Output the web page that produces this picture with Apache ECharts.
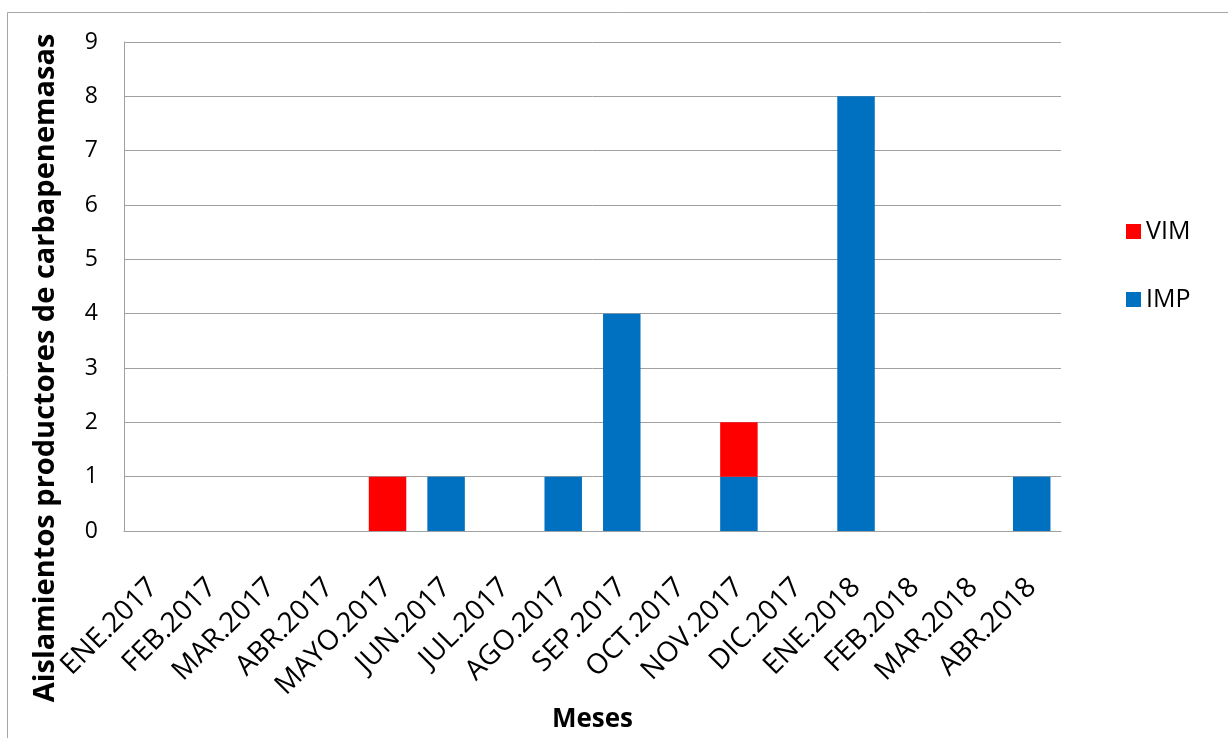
<!DOCTYPE html>
<html>
<head>
<meta charset="utf-8">
<script src="https://cdn.jsdelivr.net/npm/echarts@6/dist/echarts.min.js"></script>
<style>
  html, body { margin: 0; padding: 0; background: #ffffff; }
  #chart { width: 1228px; height: 738px; }
</style>
</head>
<body>
<div id="chart"></div>
<script>
// Monthly carbapenemase-producing isolates by enzyme type
const months = ['ENE.2017', 'FEB.2017', 'MAR.2017', 'ABR.2017', 'MAYO.2017', 'JUN.2017',
  'JUL.2017', 'AGO.2017', 'SEP.2017', 'OCT.2017', 'NOV.2017', 'DIC.2017',
  'ENE.2018', 'FEB.2018', 'MAR.2018', 'ABR.2018'];
const impValues = [0, 0, 0, 0, 0, 1, 0, 1, 4, 0, 1, 0, 8, 0, 0, 1];
const vimValues = [0, 0, 0, 0, 1, 0, 0, 0, 0, 0, 1, 0, 0, 0, 0, 0];
const yTitle = 'Aislamientos productores de carbapenemasas';
const xTitle = 'Meses';

const FONT = '"Open Sans", "Liberation Sans", sans-serif';

const chart = echarts.init(document.getElementById('chart'), null, { renderer: 'canvas' });

chart.setOption({
  backgroundColor: '#ffffff',
  animation: false,
  graphic: [
    {
      // outer chart frame
      type: 'rect',
      shape: { x: 7.5, y: 12.5, width: 1260, height: 800 },
      style: { fill: 'none', stroke: '#a6a6a6', lineWidth: 1 },
      silent: true
    },
    {
      // vertical axis title, placed along the left edge of the frame
      type: 'text',
      x: 46,
      y: 368,
      rotation: Math.PI / 2,
      style: {
        text: yTitle,
        fontFamily: FONT,
        fontSize: 29,
        fontWeight: 'bold',
        fill: '#000000',
        align: 'center',
        verticalAlign: 'middle'
      },
      silent: true
    }
  ],
  grid: { left: 124, right: 167, top: 42, bottom: 207, outerBoundsMode: 'none' },
  legend: {
    orient: 'vertical',
    left: 1126,
    top: 219,
    padding: 0,
    itemWidth: 15,
    itemHeight: 15,
    itemGap: 43,
    icon: 'rect',
    data: ['VIM', 'IMP'],
    textStyle: { fontFamily: FONT, fontSize: 25, lineHeight: 25, color: '#000000' }
  },
  xAxis: {
    type: 'category',
    data: months,
    name: xTitle,
    nameLocation: 'middle',
    nameGap: 176,
    nameMoveOverlap: false,
    nameTextStyle: { fontFamily: FONT, fontSize: 26, fontWeight: 'bold', color: '#000000' },
    axisLine: { lineStyle: { color: '#a0a0a0', width: 1 } },
    axisTick: { show: false },
    axisLabel: {
      interval: 0,
      rotate: 45,
      margin: 52,
      padding: [0, 0, 8, 0],
      fontFamily: FONT,
      fontSize: 28,
      color: '#000000'
    }
  },
  yAxis: {
    type: 'value',
    min: 0,
    max: 9,
    interval: 1,
    axisLine: { show: true, lineStyle: { color: '#a0a0a0', width: 1 } },
    axisTick: { show: false },
    splitLine: { lineStyle: { color: '#a0a0a0', width: 1 } },
    axisLabel: { margin: 26, fontFamily: FONT, fontSize: 23, color: '#000000' }
  },
  series: [
    {
      name: 'IMP',
      type: 'bar',
      stack: 'total',
      data: impValues,
      barWidth: '64%',
      itemStyle: { color: '#0070c0' }
    },
    {
      name: 'VIM',
      type: 'bar',
      stack: 'total',
      data: vimValues,
      barWidth: '64%',
      itemStyle: { color: '#ff0000' }
    }
  ]
});
</script>
</body>
</html>
